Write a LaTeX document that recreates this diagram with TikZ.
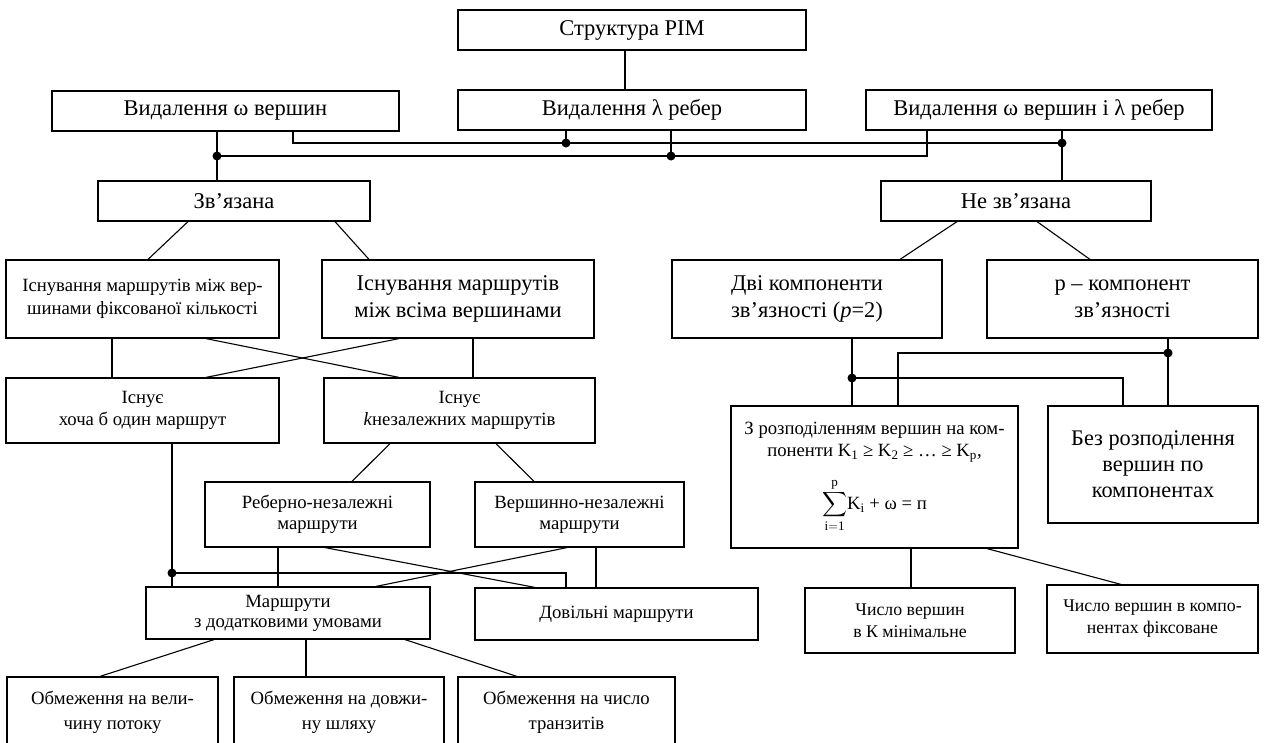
\RequirePackage{fix-cm}
\documentclass[tikz,border=0pt]{standalone}
\usepackage{exscale}
\usepackage{fontspec}
\setmainfont{Liberation Serif}
\usetikzlibrary{calc}

\begin{document}
\begin{tikzpicture}[x=1pt, y=-1pt, line width=1.1pt,
  bx/.style={draw, line width=1.2pt, align=center, inner sep=0pt, font=\fontsize{22.5}{27}\selectfont},
  sm/.style={font=\fontsize{18.7}{23}\selectfont},
  lg/.style={font=\fontsize{22.5}{27}\selectfont},
  wh/.style 2 args={minimum width=#1pt, minimum height=#2pt}]
\path[use as bounding box, clip] (0,0) rectangle (1274,742);
% upper levels
\node[bx, wh={348}{40}] (s) at (632,30) {Структура РІМ};
\node[bx, wh={347}{40}] (a) at (225.5,111) {Видалення ω вершин};
\node[bx, wh={348}{40}] (b) at (632,110) {Видалення λ ребер};
\node[bx, wh={346}{40}] (c) at (1039,110) {Видалення ω вершин і λ ребер};
\node[bx, wh={272}{40}] (z) at (234,201) {Зв’язана};
\node[bx, wh={270}{40}] (n) at (1016,201) {Не зв’язана};
% left branch
\node[bx, sm, wh={273}{78}] (l3a) at (142.5,299) {Існування маршрутів між вер-\\шинами фіксованої кількості};
\node[bx, lg, wh={272}{78}] (l3b) at (458,299) {Існування маршрутів\\між всіма вершинами};
\node[bx, sm, wh={273}{65}] (l4a) at (142.5,410.5) {Існує\\[-1pt]хоча б один маршрут};
\node[bx, sm, wh={271}{65}] (l4b) at (459.5,410.5) {Існує\\[-1pt]\textit{k}незалежних маршрутів};
\node[bx, sm, wh={225}{65}] (l5a) at (317.5,514.5) {Реберно-незалежні\\[-2pt]маршрути};
\node[bx, sm, wh={209}{65}] (l5b) at (579.5,514.5) {Вершинно-незалежні\\[-2pt]маршрути};
\node[bx, sm, wh={284}{52}] (l6a) at (288,613) {Маршрути\\[-3pt]з додатковими умовами};
\node[bx, sm, wh={283}{52}] (l6b) at (616.5,614) {Довільні маршрути};
\node[bx, sm, wh={211}{70}] (l7a) at (112.5,712) {Обмеження на вели-\\[2pt]чину потоку};
\node[bx, sm, wh={210}{70}] (l7b) at (339,712) {Обмеження на довжи-\\[2pt]ну шляху};
\node[bx, sm, wh={217}{70}] (l7c) at (566.5,712) {Обмеження на число\\[2pt]транзитів};
% right branch
\node[bx, lg, wh={270}{78}] (r3a) at (807,299) {Дві компоненти\\зв’язності (\textit{p}=2)};
\node[bx, lg, wh={271}{78}] (r3b) at (1122.5,299) {p – компонент\\зв’язності};
\node[bx, sm, wh={287}{142}] (r4a) at (874.5,477) {З розподіленням вершин на ком-\\[-1pt]поненти K\textsubscript{1} ≥ K\textsubscript{2} ≥ … ≥ K\textsubscript{p},\\[15pt]$\displaystyle\sum_{\mathrm{i=1}}^{\mathrm{p}}$K\textsubscript{i} + ω = п};
\node[bx, font=\fontsize{22.3}{26}\selectfont, wh={210}{117}] (r4b) at (1153,464.5) {Без розподілення\\вершин по\\компонентах};
\node[bx, font=\fontsize{17.8}{22}\selectfont, wh={210}{65}] (r5a) at (910,620.5) {Число вершин\\в К мінімальне};
\node[bx, font=\fontsize{17.8}{22}\selectfont, wh={211}{68}] (r5b) at (1152.5,619) {Число вершин в компо-\\нентах фіксоване};
% junctions
\coordinate (j1) at (217,156);
\coordinate (j2) at (566,143);
\coordinate (j3) at (671,156);
\coordinate (j4) at (1062,143);
\coordinate (j5) at (172,573);
\coordinate (j6) at (852,378);
\coordinate (j7) at (1168,353);
% connectors
\draw ($(s.south)+(-7,0)$) -- ($(b.north)+(-7,0)$);
\draw (a.south -| j1) -- (z.north -| j1);
\draw (c.south -| j4) -- (n.north -| j4);
\draw (b.south -| j2) -- (j2);
\draw (b.south -| j3) -- (j3);
\draw ($(a.south)+(67.5,0)$) |- (j4);
\draw (j1) -| ($(c.south)+(-112,0)$);
\draw ($(z.south)+(-46,0)$) -- ($(l3a.north)+(5.5,0)$);
\draw ($(z.south)+(101,0)$) -- ($(l3b.north)+(-89,0)$);
\draw ($(n.south)+(-59,0)$) -- ($(r3a.north)+(93,0)$);
\draw ($(n.south)+(21,0)$) -- ($(r3b.north)+(-32.5,0)$);
\draw ($(l3a.south)+(-30.5,0)$) -- ($(l4a.north)+(-30.5,0)$);
\draw ($(l3a.south)+(63.5,0)$) -- ($(l4b.north)+(-60.5,0)$);
\draw ($(l3b.south)+(-59,0)$) -- ($(l4a.north)+(63.5,0)$);
\draw ($(l3b.south)+(15,0)$) -- ($(l4b.north)+(13.5,0)$);
\draw ($(l4b.south)+(-69.5,0)$) -- ($(l5a.north)+(34.5,0)$);
\draw ($(l4b.south)+(36.5,0)$) -- ($(l5b.north)+(-45.5,0)$);
\draw (l4a.south -| j5) -- (l6a.north -| j5);
\draw (j5) -| ($(l6b.north)+(-50.5,0)$);
\draw ($(l5a.south)+(-39.5,0)$) -- ($(l6a.north)+(-10,0)$);
\draw ($(l5a.south)+(7.5,0)$) -- ($(l6b.north)+(-81.5,0)$);
\draw ($(l5b.south)+(-12.5,0)$) -- ($(l6a.north)+(88,0)$);
\draw ($(l5b.south)+(16.5,0)$) -- ($(l6b.north)+(-20.5,0)$);
\draw ($(l6a.south)+(-74,0)$) -- ($(l7a.north)+(-12.5,0)$);
\draw ($(l6a.south)+(18,0)$) -- ($(l7b.north)+(-33,0)$);
\draw ($(l6a.south)+(117,0)$) -- ($(l7c.north)+(-49.5,0)$);
\draw (r3a.south -| j6) -- (r4a.north -| j6);
\draw (j6) -| ($(r4b.north)+(-30,0)$);
\draw (r3b.south -| j7) -- (r4b.north -| j7);
\draw (j7) -| ($(r4a.north)+(23.5,0)$);
\draw ($(r4a.south)+(36.5,0)$) -- ($(r5a.north)+(1,0)$);
\draw ($(r4a.south)+(112.5,0)$) -- ($(r5b.north)+(-31.5,0)$);
\foreach \j in {j1,j2,j3,j4,j5,j6,j7} \fill (\j) circle (4.5pt);
\end{tikzpicture}
\end{document}
